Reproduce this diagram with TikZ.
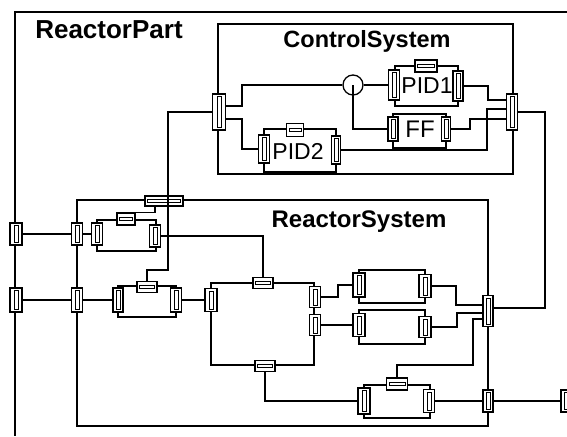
\documentclass[tikz,border=0pt]{standalone}
\usepackage{fontspec}
\setmainfont{Liberation Sans}
\usetikzlibrary{fit}
\begin{document}
\begin{tikzpicture}[x=1pt,y=-1pt,
  ln/.style={line width=1.6pt},
  cbox/.style={draw, line width=1.6pt, inner sep=0pt, rectangle},
  vport/.style 2 args={draw, line width=1.2pt, fill=white, rectangle, inner sep=0pt,
    minimum width=#1pt, minimum height=#2pt,
    path picture={\draw[line width=1pt] ([xshift=-2pt,yshift=-2.5pt]path picture bounding box.north) rectangle ([xshift=2pt,yshift=2.5pt]path picture bounding box.south);}},
  hport/.style 2 args={draw, line width=1.2pt, fill=white, rectangle, inner sep=0pt,
    minimum width=#1pt, minimum height=#2pt,
    path picture={\draw[line width=1pt] ([xshift=2.5pt,yshift=-1.5pt]path picture bounding box.west) rectangle ([xshift=-2.5pt,yshift=1.5pt]path picture bounding box.east);}},
  ttl/.style={inner sep=0pt, font=\fontsize{24}{24}\selectfont\bfseries},
  lbl/.style={inner sep=0pt, font=\fontsize{23}{23}\selectfont}]
\useasboundingbox (0,0) rectangle (567,436);
\clip (0,0) rectangle (567,436);
% outer ReactorPart frame
\draw[ln] (567,12) -- (15,12) -- (15,436);
\node[ttl, font=\fontsize{26}{26}\selectfont\bfseries] (tRP) at (109,30) {ReactorPart};

% ---------------- ControlSystem ----------------
\node[cbox, fit={(218,24) (513,174)}] (cs) {};
\node[ttl, font=\fontsize{23.5}{23.5}\selectfont\bfseries] (tCS) at (367,41) {ControlSystem};
\node[draw, circle, line width=1.3pt, minimum size=20pt, inner sep=0pt] (sum) at (353,85) {};
\node[cbox, fit={(395,66) (458,106)}] (pid1) {};
\node[cbox, fit={(393,114) (446,148)}] (ff) {};
\node[cbox, fit={(264,129) (336,172)}] (pid2) {};
\node[vport={11}{30}] (p1L) at (394,85) {};
\node[vport={10}{30}] (p1R) at (458,86) {};
\node[hport={22}{12}] (p1T) at (426,66) {};
\node[vport={10}{24}] (ffL) at (393,129) {};
\node[vport={9}{24}] (ffR) at (446,129) {};
\node[vport={11}{28}] (p2L) at (264,149) {};
\node[vport={9}{28}] (p2R) at (336,150) {};
\node[hport={17}{13}] (p2T) at (295,130) {};
\node[vport={13}{36}] (csL) at (219,112) {};
\node[vport={11}{36}] (csR) at (512,112) {};
\node[lbl] (tP1) at (427,86) {PID1};
\node[lbl, font=\fontsize{24}{24}\selectfont] (tFF) at (420,129) {FF};
\node[lbl] (tP2) at (298,151) {PID2};

\draw[ln] (csL.east |- 0,106) -- (242,106) |- (sum.west);
\draw[ln] (csL.east |- 0,119) -- (242,119) |- (p2L.west);
\draw[ln] (sum.east) -- (p1L.west);
\draw[ln] (sum.center) |- (ffL.west);
\draw[ln] (p1R.east) -- (488,86) -- (488,100) -- (csR.west |- 0,100);
\draw[ln] (ffR.east) -- (470,129) -- (470,119) -- (csR.west |- 0,119);
\draw[ln] (p2R.east) -- (487,150) -- (487,109) -- (csR.west |- 0,109);

% ---------------- ReactorSystem ----------------
\node[cbox, fit={(77,200) (488,426)}] (rs) {};
\node[ttl] (tRS) at (359,222) {ReactorSystem};
\node[cbox, fit={(97,220) (156,251)}] (c1) {};
\node[cbox, fit={(118,286) (176,317)}] (c2) {};
\node[cbox, fit={(211,283) (314,365)}] (loop) {};
\node[cbox, fit={(359,270) (425,303)}] (c3) {};
\node[cbox, fit={(359,310) (425,344)}] (c4) {};
\node[cbox, fit={(364,385) (430,418)}] (c5) {};

\node[hport={38}{10}] (rsT) at (164,201) {};
\node[vport={11}{22}] (rsL1) at (77,234) {};
\node[vport={11}{24}] (rsL2) at (77,300) {};
\node[vport={12}{22}] (oL1) at (16,234) {};
\node[vport={12}{24}] (oL2) at (16,300) {};
\node[vport={10}{31}] (rsR) at (488,311) {};
\node[vport={10}{22}] (rsR2) at (488,401) {};
\node[vport={10}{22}] (oR) at (566,401) {};

\node[vport={11}{22}] (c1L) at (97,234) {};
\node[vport={11}{22}] (c1R) at (155,236) {};
\node[hport={18}{12}] (c1T) at (126,219) {};
\node[vport={10}{24}] (c2L) at (118,300) {};
\node[vport={11}{24}] (c2R) at (176,300) {};
\node[hport={20}{11}] (c2T) at (147,287) {};
\node[vport={12}{23}] (lpL) at (211,300) {};
\node[hport={20}{11}] (lpT) at (263,283) {};
\node[hport={20}{11}] (lpB) at (265,366) {};
\node[vport={11}{21}] (lpR1) at (315,297) {};
\node[vport={11}{21}] (lpR2) at (315,325) {};
\node[vport={12}{24}] (c3L) at (359,285) {};
\node[vport={12}{23}] (c3R) at (425,286) {};
\node[vport={12}{23}] (c4L) at (359,325) {};
\node[vport={12}{21}] (c4R) at (425,327) {};
\node[vport={12}{26}] (c5L) at (364,401) {};
\node[vport={11}{23}] (c5R) at (429,401) {};
\node[hport={21}{12}] (c5T) at (397,384) {};

\draw[ln] (oL1.east) -- (rsL1.west);
\draw[ln] (oL2.east) -- (rsL2.west);
\draw[ln] (rsL1.east) -- (c1L.west);
\draw[ln] (rsL2.east) -- (c2L.west);
\draw[ln] (csL.west) -- (168,112) -- (168,270) -| (c2T.north);
\draw[ln] (rsT.south -| 155,0) |- ([xshift=-2pt]c1T.north east);
\draw[ln] (c1R.east) -- (263,236) -- (lpT.north);
\draw[ln] (c2R.east) -- (lpL.west);
\draw[ln] (lpR1.east) -- (338,297) -- (338,285) -- (c3L.west);
\draw[ln] (lpR2.east) -- (c4L.west);
\draw[ln] (c3R.east) -- (456,286) -- (456,305) -- (rsR.west |- 0,305);
\draw[ln] (c4R.east) -- (457,327) -- (457,313) -- (rsR.west |- 0,313);
\draw[ln] (c5T.north) -- (397,365) -- (473,365) -- (473,319) -- (rsR.west |- 0,319);
\draw[ln] (lpB.south) |- (c5L.west);
\draw[ln] (c5R.east) -- (rsR2.west);
\draw[ln] (rsR2.east) -- (oR.west);
\draw[ln] (rsR.east |- 0,308) -- (545,308) -- (545,112) -- (csR.east);
\end{tikzpicture}
\end{document}
